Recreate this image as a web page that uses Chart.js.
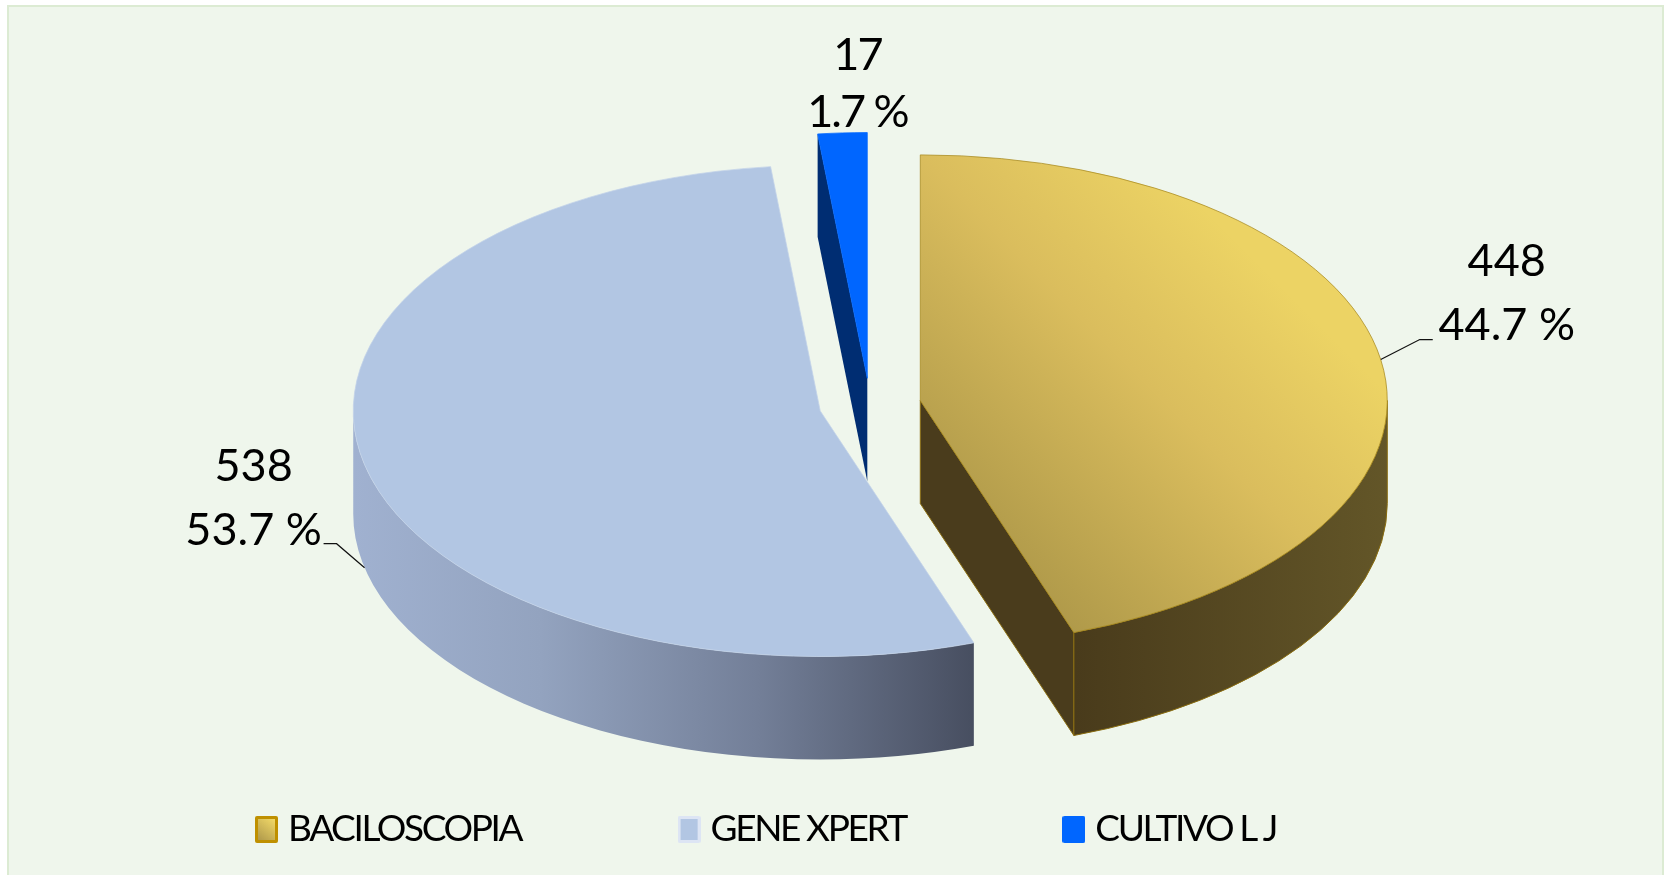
<!DOCTYPE html>
<html>
<head>
<meta charset="utf-8">
<title>Pie 3D</title>
<script src="https://cdn.jsdelivr.net/npm/chart.js@4"></script>
<style>
    html, body { margin: 0; padding: 0; background: #fff; }
    #wrap { width: 1665px; height: 875px; }
</style>
</head>
<body>
<div id="wrap"><canvas id="grafico" width="1665" height="875"></canvas></div>
<script>
// Dados do gráfico
const categorias = ['BACILOSCOPIA', 'GENE XPERT', 'CULTIVO L J'];
const casos = [448, 538, 17];
const percentuais = ['44.7 %', '53.7 %', '1.7 %'];

// Aparência da pizza "3D"
const achatamento = 0.526;
const profundidade = 103;
const raio = 467;
const explosao = 51;
const fonte = 'Lato, Carlito, sans-serif';

// centro do setor na tela, ja achatado
function centroSetor(chart, arco) {
    const cy = (chart.chartArea.top + chart.chartArea.bottom) / 2;
    return {
        x: arco.x,
        y: cy + (arco.y - cy) * achatamento,
        meio: (arco.startAngle + arco.endAngle) / 2
    };
}

function paredeRadial(ctx, c, ang, cor, borda) {
    const px = c.x + Math.cos(ang) * raio;
    const py = c.y + Math.sin(ang) * raio * achatamento;
    ctx.beginPath();
    ctx.moveTo(c.x, c.y);
    ctx.lineTo(px, py);
    ctx.lineTo(px, py + profundidade);
    ctx.lineTo(c.x, c.y + profundidade);
    ctx.closePath();
    ctx.fillStyle = cor;
    ctx.fill();
    if (borda) {
        ctx.strokeStyle = borda;
        ctx.lineWidth = 1;
        ctx.stroke();
    }
}

function paredeExterna(ctx, c, a1, a2, cor, borda) {
    ctx.beginPath();
    ctx.ellipse(c.x, c.y, raio, raio * achatamento, 0, a1, a2);
    ctx.ellipse(c.x, c.y + profundidade, raio, raio * achatamento, 0, a2, a1, true);
    ctx.closePath();
    ctx.fillStyle = cor;
    ctx.fill();
    if (borda) {
        ctx.strokeStyle = borda;
        ctx.lineWidth = 1;
        ctx.stroke();
    }
}

const pizza3d = {
    id: 'pizza3d',
    // texto da legenda do original e bem estreito
    beforeUpdate(chart) {
        chart.ctx.letterSpacing = '-2.4px';
    },
    // o offset do Chart.js nao afasta os setores por igual, entao move cada arco aqui
    afterDatasetsUpdate(chart) {
        chart.getDatasetMeta(0).data.forEach(arco => {
            const meio = (arco.startAngle + arco.endAngle) / 2;
            arco.x += Math.cos(meio) * explosao;
            arco.y += Math.sin(meio) * explosao;
        });
    },
    beforeDraw(chart) {
        const ctx = chart.ctx;
        ctx.save();
        ctx.fillStyle = '#ffffff';
        ctx.fillRect(0, 0, chart.width, chart.height);
        ctx.fillStyle = '#EFF6EC';
        ctx.strokeStyle = '#DCEBD3';
        ctx.lineWidth = 2;
        ctx.fillRect(8, 6, 1655, 875);
        ctx.strokeRect(8, 6, 1655, 875);
        ctx.restore();
    },
    beforeDatasetsDraw(chart) {
        const ctx = chart.ctx;
        const arcos = chart.getDatasetMeta(0).data;

        const corOuro = ctx.createLinearGradient(1075, 0, 1390, 0);
        corOuro.addColorStop(0, '#493B1B');
        corOuro.addColorStop(1, '#635628');
        const corGene = ctx.createLinearGradient(354, 0, 975, 0);
        corGene.addColorStop(0, '#A0B1D0');
        corGene.addColorStop(0.3, '#93A3BF');
        corGene.addColorStop(0.65, '#737F98');
        corGene.addColorStop(1, '#474E60');

        const externas = [corOuro, corGene, null];
        const internas = ['#4A3C1C', '#474E60', '#002D72'];
        const bordas = ['#8A6D10', null, null];

        ctx.save();
        arcos.forEach((arco, i) => {
            const c = centroSetor(chart, arco);
            // faces de corte que ficam voltadas para quem olha
            if (-Math.cos(arco.startAngle) > 0.001) paredeRadial(ctx, c, arco.startAngle, internas[i], bordas[i]);
            if (Math.cos(arco.endAngle) > 0.001) paredeRadial(ctx, c, arco.endAngle, internas[i], bordas[i]);
            // parede externa, so a metade de baixo aparece
            const a1 = Math.max(arco.startAngle, 0);
            const a2 = Math.min(arco.endAngle, Math.PI);
            if (a2 > a1 && externas[i]) paredeExterna(ctx, c, a1, a2, externas[i], bordas[i]);
        });
        ctx.restore();

        // achata a pizza desenhada pelo proprio Chart.js
        const cy = (chart.chartArea.top + chart.chartArea.bottom) / 2;
        ctx.save();
        ctx.translate(0, cy);
        ctx.scale(1, achatamento);
        ctx.translate(0, -cy);
    },
    afterDatasetsDraw(chart) {
        const ctx = chart.ctx;
        ctx.restore();

        const arcos = chart.getDatasetMeta(0).data;
        // deslocamentos de texto e linhas guia a partir da borda de cada setor
        const textos = [
            { dx: 126, dy: -98, dy2: -34, linha: [[39, -20], [52, -20]], base: 0, esp: '0px' },
            { dx: -111, dy: -101, dy2: -37, linha: [[-28, -24], [-41, -24]], base: profundidade, esp: '0px' },
            { dx: 15, dy: -77, dy2: -20, linha: null, base: 0, esp: '-2px' }
        ];
        ctx.save();
        ctx.font = '45px ' + fonte;
        ctx.textAlign = 'center';
        ctx.textBaseline = 'middle';
        arcos.forEach((arco, i) => {
            const c = centroSetor(chart, arco);
            const ax = c.x + Math.cos(c.meio) * raio;
            const ay = c.y + Math.sin(c.meio) * raio * achatamento + textos[i].base;
            ctx.letterSpacing = textos[i].esp;
            ctx.fillStyle = '#000';
            ctx.fillText(String(casos[i]), ax + textos[i].dx, ay + textos[i].dy);
            ctx.fillText(percentuais[i], ax + textos[i].dx, ay + textos[i].dy2);
            if (textos[i].linha) {
                ctx.beginPath();
                ctx.moveTo(ax, ay);
                textos[i].linha.forEach(p => ctx.lineTo(ax + p[0], ay + p[1]));
                ctx.strokeStyle = '#111';
                ctx.lineWidth = 1.2;
                ctx.stroke();
            }
        });
        ctx.restore();
    }
};

// quadradinho da legenda, desenhado num canvas pequeno
function amostra(preenche, contorno) {
    const c = document.createElement('canvas');
    c.width = 23;
    c.height = 27;
    const g = c.getContext('2d');
    let cor = preenche;
    if (Array.isArray(preenche)) {
        cor = g.createLinearGradient(3, 25, 20, 3);
        cor.addColorStop(0, preenche[0]);
        cor.addColorStop(1, preenche[1]);
    }
    g.fillStyle = contorno;
    g.beginPath();
    g.roundRect(0, 0, 23, 27, 2);
    g.fill();
    g.fillStyle = cor;
    g.fillRect(3, 3, 17, 21);
    return c;
}

// Criação do gráfico
const ctxGrafico = document.getElementById('grafico').getContext('2d');

// gradiente na diagonal, em coordenadas antes do achatamento
const fillOuro = ctxGrafico.createLinearGradient(848, 405, 1281, 178);
fillOuro.addColorStop(0, '#B09A4A');
fillOuro.addColorStop(0.58, '#DABD5D');
fillOuro.addColorStop(1, '#ECD364');

const amostras = [
    amostra(['#AD974A', '#F2D968'], '#BF9000'),
    amostra('#B2C6E3', '#DDE5F4'),
    amostra('#0066FF', '#0066FF')
];

const grafico = new Chart(ctxGrafico, {
    type: 'pie',
    data: {
        labels: categorias,
        datasets: [{
            data: casos,
            backgroundColor: [fillOuro, '#B2C6E3', '#0066FF'],
            borderColor: ['#A88A20', '#C3D2E9', '#0066FF'],
            borderWidth: 1,
            radius: raio,
            clip: false
        }]
    },
    options: {
        responsive: false,
        animation: false,
        layout: { padding: { left: 98.5, right: 23.5, top: 164, bottom: 17 } },
        plugins: {
            tooltip: { enabled: false },
            legend: {
                position: 'bottom',
                align: 'start',
                labels: {
                    font: { family: fonte, size: 37 },
                    color: '#000',
                    usePointStyle: true,
                    pointStyleWidth: 6,
                    padding: 165,
                    generateLabels() {
                        return categorias.map((nome, i) => ({
                            text: nome,
                            pointStyle: amostras[i],
                            fontColor: '#000',
                            index: i
                        }));
                    }
                }
            }
        }
    },
    plugins: [pizza3d]
});
</script>
</body>
</html>
